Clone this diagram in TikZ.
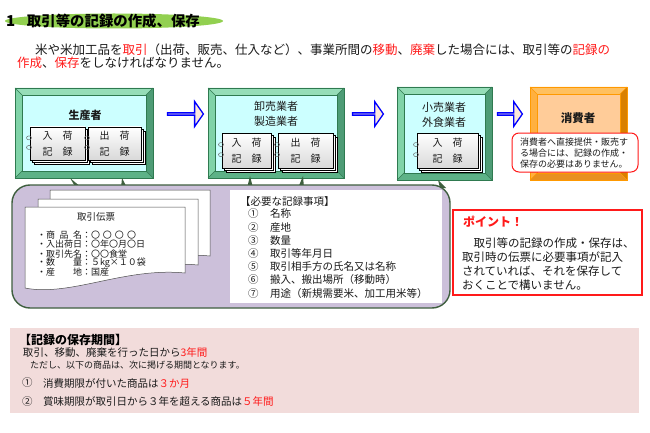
\documentclass[tikz,border=0pt]{standalone}
\usepackage{fontspec}
\setmainfont{Noto Sans CJK JP}
\usetikzlibrary{shapes.arrows,calc}
\definecolor{txt}{HTML}{1A1A1A}
\definecolor{redx}{HTML}{FF1A1A}
\definecolor{titlegreen}{HTML}{92D050}
\definecolor{gTop}{HTML}{96DDB8}
\definecolor{gLeft}{HTML}{80D3A8}
\definecolor{gRight}{HTML}{4E9C76}
\definecolor{gBot}{HTML}{5DB287}
\definecolor{gEdge}{HTML}{2F7A50}
\definecolor{gInner}{HTML}{CCFFFF}
\definecolor{oTop}{HTML}{FFC060}
\definecolor{oLeft}{HTML}{FFB040}
\definecolor{oRight}{HTML}{D98000}
\definecolor{oBot}{HTML}{E89020}
\definecolor{oEdge}{HTML}{FF9900}
\definecolor{oInner}{HTML}{FFCC99}
\definecolor{arrowfill}{HTML}{FDE9D9}
\definecolor{memofill}{HTML}{CCC0DA}
\definecolor{memoedge}{HTML}{3F5F3F}
\definecolor{pinkbg}{HTML}{F2DCDB}
\newcommand\fsz[2]{\fontsize{#1}{#2}\selectfont}
\newcommand\redtxt[1]{\textcolor{redx}{#1}}
\tikzset{
  topG/.style={fill=gTop}, leftG/.style={fill=gLeft}, rightG/.style={fill=gRight}, botG/.style={fill=gBot},
  edgeG/.style={draw=gEdge, line width=0.6pt}, innerG/.style={fill=gInner, draw=gEdge, line width=0.4pt},
  topO/.style={fill=oTop}, leftO/.style={fill=oLeft}, rightO/.style={fill=oRight}, botO/.style={fill=oBot},
  edgeO/.style={draw=oEdge, line width=0.6pt}, innerO/.style={fill=oInner, draw=oEdge, line width=0.4pt},
  pagest/.style={draw=black, fill=white, line width=0.4pt},
  bookface/.style={draw=black, line width=0.5pt, top color=white, bottom color=black!15, align=center, font=\fsz{10}{16}, text=txt},
  ringst/.style={draw=black!60, line width=0.5pt},
  blockarrow/.style={single arrow, draw=blue, line width=1.3pt, fill=arrowfill, minimum width=25pt,
     single arrow head extend=6.5pt, single arrow tip angle=110, single arrow head indent=0pt},
  spike/.style={fill=memoedge},
  sheet/.style={draw=black!70, fill=white, line width=0.5pt},
  boxtitle/.style={font=\fsz{11}{15}, text=txt, align=center},
  body/.style={font=\fsz{12.5}{15}, text=txt, anchor=west},
  small/.style={font=\fsz{9}{10.5}, text=txt, anchor=west},
  item/.style={font=\fsz{10.5}{12}, text=txt, anchor=west},
  pointtxt/.style={font=\fsz{11.5}{14}, text=txt, anchor=west},
  keeptxt/.style={font=\fsz{10.5}{12}, text=txt, anchor=west},
}
% name, x1, y1, x2, y2, scheme
\newcommand\bevelbox[6]{%
  \fill[top#6] (#2,#3) -- (#4,#3) -- (#4-7,#3+7) -- (#2+7,#3+7) -- cycle;
  \fill[left#6] (#2,#3) -- (#2+7,#3+7) -- (#2+7,#5-7) -- (#2,#5) -- cycle;
  \fill[right#6] (#4,#3) -- (#4,#5) -- (#4-7,#5-7) -- (#4-7,#3+7) -- cycle;
  \fill[bot#6] (#2,#5) -- (#4,#5) -- (#4-7,#5-7) -- (#2+7,#5-7) -- cycle;
  \draw[edge#6] (#2,#3) -- (#2+7,#3+7) (#4,#3) -- (#4-7,#3+7) (#4,#5) -- (#4-7,#5-7) (#2,#5) -- (#2+7,#5-7);
  \node[inner#6, minimum width=#4pt-#2pt-14pt, minimum height=#5pt-#3pt-14pt] (#1) at ({(#2+#4)/2},{(#3+#5)/2}) {};
  \draw[edge#6] (#2,#3) rectangle (#4,#5);
}
% name, x1, y1, x2, y2, text
\newcommand\recbook[6]{%
  \draw[pagest] (#2+4,#3+4) rectangle (#4+4,#5+4);
  \draw[pagest] (#2+2,#3+2) rectangle (#4+2,#5+2);
  \node[bookface, minimum width=#4pt-#2pt, minimum height=#5pt-#3pt, anchor=north west] (#1) at (#2,#3) {#6};
  \draw[ringst] (#2-1,{#3+(#5-#3)*0.33}) ellipse [x radius=2.5pt, y radius=2pt];
  \draw[ringst] (#2-1,{#3+(#5-#3)*0.62}) ellipse [x radius=2.5pt, y radius=2pt];
}
\newcommand\docshape{(0,0) -- (160,0) -- (160,66) .. controls (100,60) and (45,90) .. (0,81) -- cycle}
\begin{document}
\begin{tikzpicture}[x=1pt, y=-1pt, every node/.style={inner sep=0pt, outer sep=0pt}]
\fill[white] (0,0) rectangle (650,433);
\useasboundingbox (0,0) rectangle (650,433);

% title
\fill[titlegreen] (114,21) ellipse [x radius=109pt, y radius=7.5pt];
\node[anchor=west, font=\fsz{15}{16}\bfseries, text=black] (tnum) at (6,21) {1};
\node[anchor=west, font=\fsz{14.4}{16}\bfseries, text=black] (title) at (27,21) {取引等の記録の作成、保存};

% paragraph
\node[body] (p1) at (35,50) {米や米加工品を\redtxt{取引}（出荷、販売、仕入など）、事業所間の\redtxt{移動}、\redtxt{廃棄}した場合には、取引等の\redtxt{記録の}};
\node[body] (p2) at (17,63) {\redtxt{作成}、\redtxt{保存}をしなければなりません。};

% flow boxes
\bevelbox{prod}{15}{88}{153}{178}{G}
\bevelbox{whole}{208}{88}{344}{178}{G}
\bevelbox{retail}{397}{87}{492}{180}{G}
\bevelbox{cons}{530}{87}{627}{180}{O}

\node[boxtitle, font=\fsz{11}{15}\bfseries] (prodT) at (85,115) {生産者};
\node[boxtitle] (wholeT) at (276,113.5) {卸売業者\\製造業者};
\node[boxtitle] (retailT) at (444,115) {小売業者\\外食業者};
\node[boxtitle, font=\fsz{11.5}{15}\bfseries] (consT) at (578,118) {消費者};

\recbook{pin}{30}{127}{85}{160}{入　荷\\記　録}
\recbook{pout}{88}{127}{141}{160}{出　荷\\記　録}
\recbook{win}{222}{133}{271}{168}{入　荷\\記　録}
\recbook{wout}{278}{133}{333}{168}{出　荷\\記　録}
\recbook{rin}{417}{133}{478}{168}{入　荷\\記　録}

% block arrows
\node[blockarrow, minimum height=36pt] (arr1) at (185,114) {};
\node[blockarrow, minimum height=31pt] (arr2) at (367.5,114) {};
\node[blockarrow, minimum height=25pt] (arr3) at (509.5,114) {};

% consumer note
\node[draw=redx, fill=white, rounded corners=7pt, line width=1pt, minimum width=126pt, minimum height=39pt, anchor=north west] (cnote) at (512,133) {};
\node[small, align=left, font=\fsz{9}{10.6}] (cnoteT) at (520,153) {消費者へ直接提供・販売す\\る場合には、記録の作成・\\保存の必要はありません。};

% callout tails
\fill[spike] (70,178) -- (76,188) -- (82,188) -- cycle;
\fill[spike] (122,178) -- (121,188) -- (127,188) -- cycle;
\fill[spike] (250,176) -- (247,188) -- (253,188) -- cycle;
\fill[spike] (303,176) -- (298,188) -- (304,188) -- cycle;
\fill[spike] (438,180) -- (440,188) -- (446,188) -- cycle;

% memo box
\node[draw=memoedge, line width=1.4pt, fill=memofill, rounded corners=18pt, minimum width=438pt, minimum height=123pt] (memo) at (231,246.5) {};

% sheets
\begin{scope}[shift={(50,190)}] \filldraw[sheet] \docshape; \end{scope}
\begin{scope}[shift={(38,199)}] \filldraw[sheet] \docshape; \end{scope}
\begin{scope}[shift={(25,207)}] \filldraw[sheet] \docshape; \end{scope}
\node[font=\fsz{9.5}{11}, text=txt] (slipT) at (96,217) {取引伝票};
\node[small] (s1) at (37,235) {・\makebox[36pt][s]{商\hfill 品\hfill 名}：〇\,\,〇\,\,〇\,\,〇};
\node[small] (s2) at (37,244.5) {・\makebox[36pt][s]{入出荷日}：〇年〇月〇日};
\node[small] (s3) at (37,254) {・\makebox[36pt][s]{取引先名}：〇〇食堂};
\node[small] (s4) at (37,263) {・\makebox[36pt][s]{数\hfill 量}：５kg×１０袋};
\node[small] (s5) at (37,272.5) {・\makebox[36pt][s]{産\hfill 地}：国産};

% requirement list
\node[fill=white, minimum width=212pt, minimum height=113pt, anchor=north west] (reqbox) at (230,190) {};
\node[item] (rh) at (240,202) {【必要な記録事項】};
\node[item] (r1n) at (248,214) {①}; \node[item] (r1) at (270,214) {名称};
\node[item] (r2n) at (248,227.2) {②}; \node[item] (r2) at (270,227.2) {産地};
\node[item] (r3n) at (248,240.4) {③}; \node[item] (r3) at (270,240.4) {数量};
\node[item] (r4n) at (248,253.6) {④}; \node[item] (r4) at (270,253.6) {取引等年月日};
\node[item] (r5n) at (248,266.8) {⑤}; \node[item] (r5) at (270,266.8) {取引相手方の氏名又は名称};
\node[item] (r6n) at (248,280) {⑥}; \node[item] (r6) at (270,280) {搬入、搬出場所（移動時）};
\node[item] (r7n) at (248,293.2) {⑦}; \node[item] (r7) at (270,293.2) {用途（新規需要米、加工用米等）};

% point box
\node[draw=redx, line width=1.8pt, fill=white, minimum width=189pt, minimum height=85pt, anchor=north west] (point) at (453,210) {};
\node[anchor=west, font=\fsz{12}{14}\bfseries, text=redx] (pointH) at (463,222) {ポイント！};
\node[pointtxt] (pt1) at (462,243) {　取引等の記録の作成・保存は、};
\node[pointtxt] (pt2) at (462,257) {取引時の伝票に必要事項が記入};
\node[pointtxt] (pt3) at (462,271) {されていれば、それを保存して};
\node[pointtxt] (pt4) at (462,285) {おくことで構いません。};

% keeping period
\node[fill=pinkbg, minimum width=629pt, minimum height=85pt, anchor=north west] (keep) at (10,328) {};
\node[anchor=west, font=\fsz{12}{14}\bfseries, text=black] (kh) at (19,340) {【記録の保存期間】};
\node[keeptxt] (k1) at (23,353) {取引、移動、廃棄を行った日から\redtxt{3年間}};
\node[keeptxt, font=\fsz{9}{11}] (k2) at (30,365) {ただし、以下の商品は、次に掲げる期間となります。};
\node[keeptxt] (k3n) at (22,383) {①}; \node[keeptxt] (k3) at (43,383) {消費期限が付いた商品は\redtxt{３か月}};
\node[keeptxt] (k4n) at (22,402) {②}; \node[keeptxt] (k4) at (43,402) {賞味期限が取引日から３年を超える商品は\redtxt{５年間}};
\end{tikzpicture}
\end{document}
